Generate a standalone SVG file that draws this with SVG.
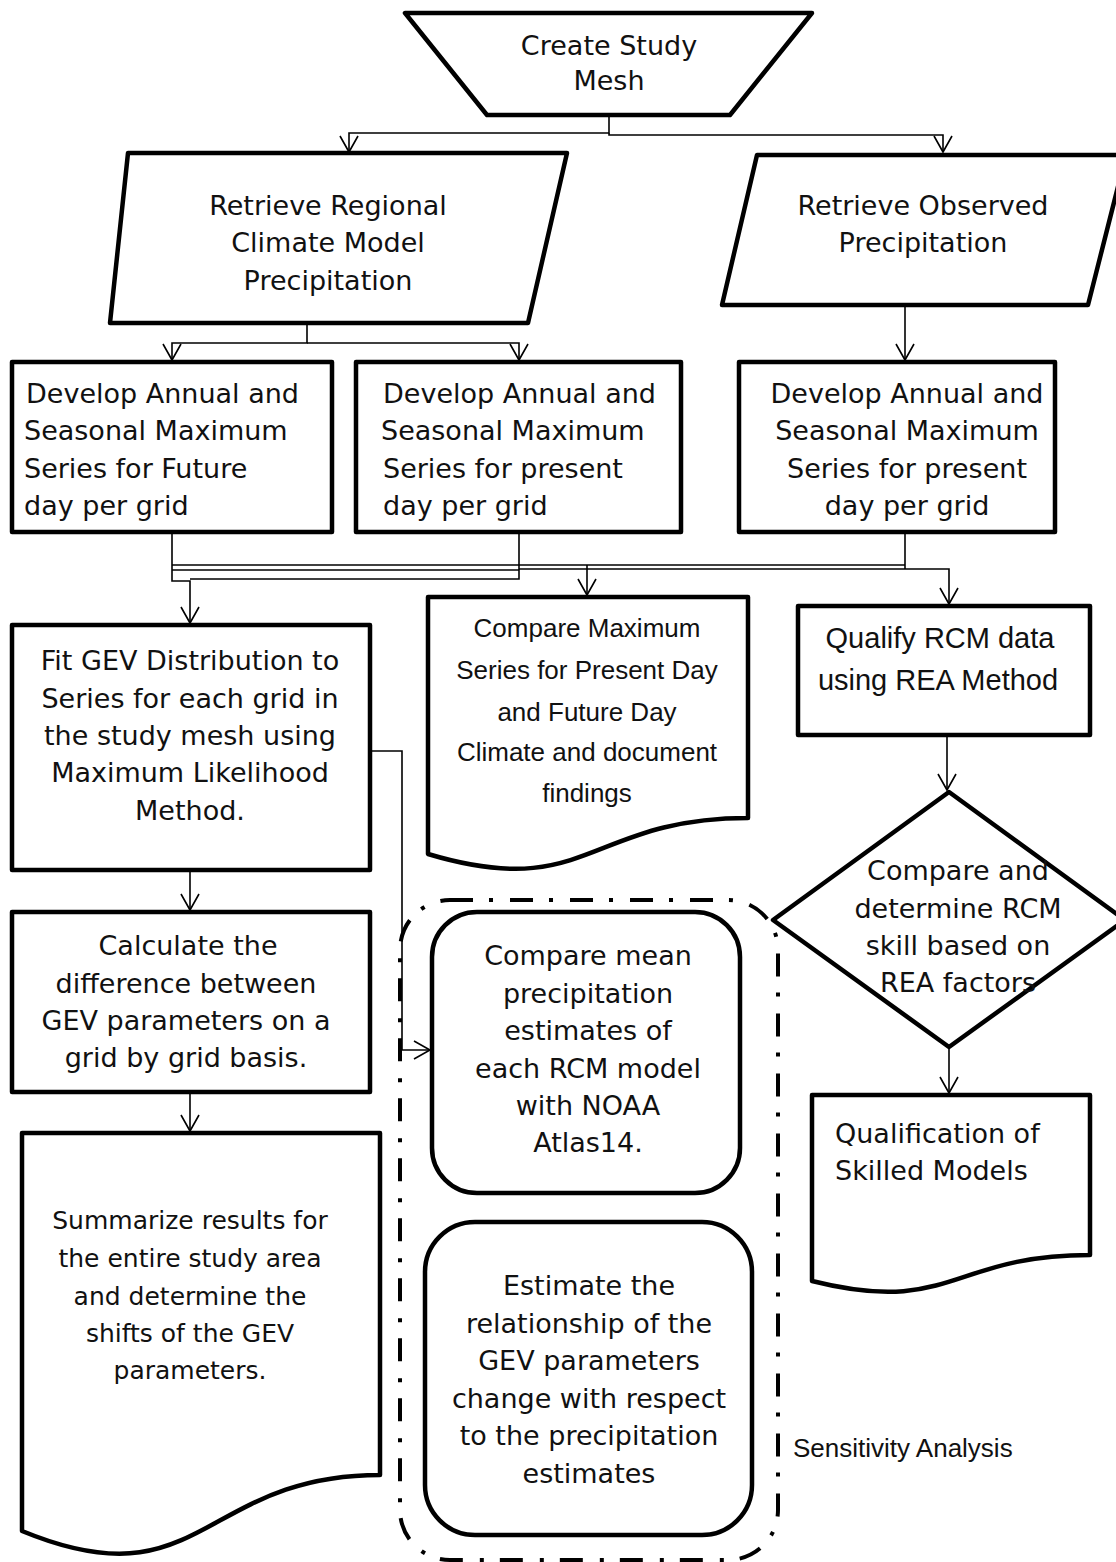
<svg xmlns="http://www.w3.org/2000/svg" width="1116" height="1562" viewBox="0 0 1116 1562">
<style>
.s{fill:#fff;stroke:#000;stroke-width:4.5;stroke-linejoin:round}
.c{fill:none;stroke:#000;stroke-width:1.6}
.t{font-family:"DejaVu Sans",Verdana,sans-serif;font-size:27px;fill:#111;dominant-baseline:central}
.m{text-anchor:middle}
.k{font-family:"Liberation Sans",Arial,sans-serif;font-size:26px;fill:#111;dominant-baseline:central}
</style>
<defs>
<marker id="a" markerUnits="userSpaceOnUse" markerWidth="40" markerHeight="40" refX="0" refY="0" viewBox="-20 -20 40 40" orient="auto" overflow="visible">
<path d="M-16,-9 L0,0 L-16,9" fill="none" stroke="#000" stroke-width="1.6"/>
</marker>
</defs>
<g id="connectors">
<path class="c" d="M609,115 V133 H349 V152" marker-end="url(#a)"/>
<path class="c" d="M609,133 V135 H943 V152" marker-end="url(#a)"/>
<path class="c" d="M307,323 V343 H172 V360" marker-end="url(#a)"/>
<path class="c" d="M307,343 H519 V360" marker-end="url(#a)"/>
<path class="c" d="M905,305 V360" marker-end="url(#a)"/>
<path class="c" d="M172,532 V581 H190 V623" marker-end="url(#a)"/>
<path class="c" d="M519,532 V579 H190"/>
<path class="c" d="M172,565 H905"/>
<path class="c" d="M172,570 H519" stroke="#777"/>
<path class="c" d="M519,569 H949 V604" marker-end="url(#a)"/>
<path class="c" d="M905,532 V569"/>
<path class="c" d="M587,565 V595" marker-end="url(#a)"/>
<path class="c" d="M947,735 V790" marker-end="url(#a)"/>
<path class="c" d="M949,1047 V1093" marker-end="url(#a)"/>
<path class="c" d="M190,870 V910" marker-end="url(#a)"/>
<path class="c" d="M190,1092 V1131" marker-end="url(#a)"/>
<path class="c" d="M370,751 H402 V1050 H430" marker-end="url(#a)"/>
</g>
<g id="create-mesh">
<path class="s" d="M405,13 H812 L730,115 H487 Z"/>
<text class="t m" x="609" y="45">Create Study</text>
<text class="t m" x="609" y="80">Mesh</text>
</g>
<g id="retrieve-rcm">
<path class="s" d="M128,153 H567 L528,323 H110 Z"/>
<text class="t m" x="328" y="205">Retrieve Regional</text>
<text class="t m" x="328" y="242">Climate Model</text>
<text class="t m" x="328" y="280">Precipitation</text>
</g>
<g id="retrieve-obs">
<path class="s" d="M757,155 H1126 L1088,305 H722 Z"/>
<text class="t m" x="923" y="205">Retrieve Observed</text>
<text class="t m" x="923" y="242">Precipitation</text>
</g>
<g id="develop-future">
<rect class="s" x="12" y="362" width="320" height="170"/>
<text class="t" x="26" y="393">Develop Annual and</text>
<text class="t" x="24" y="430">Seasonal Maximum</text>
<text class="t" x="24" y="468">Series for Future</text>
<text class="t" x="24" y="505">day per grid</text>
</g>
<g id="develop-present-rcm">
<rect class="s" x="356" y="362" width="325" height="170"/>
<text class="t" x="383" y="393">Develop Annual and</text>
<text class="t" x="381" y="430">Seasonal Maximum</text>
<text class="t" x="383" y="468">Series for present</text>
<text class="t" x="383" y="505">day per grid</text>
</g>
<g id="develop-present-obs">
<rect class="s" x="739" y="362" width="316" height="170"/>
<text class="t m" x="907" y="393">Develop Annual and</text>
<text class="t m" x="907" y="430">Seasonal Maximum</text>
<text class="t m" x="907" y="468">Series for present</text>
<text class="t m" x="907" y="505">day per grid</text>
</g>
<g id="fit-gev">
<rect class="s" x="12" y="625" width="358" height="245"/>
<text class="t m" x="190" y="660">Fit GEV Distribution to</text>
<text class="t m" x="190" y="698">Series for each grid in</text>
<text class="t m" x="190" y="735">the study mesh using</text>
<text class="t m" x="190" y="772">Maximum Likelihood</text>
<text class="t m" x="190" y="810">Method.</text>
</g>
<g id="compare-max">
<path class="s" d="M428,597 H748 V818 C588,818 588,902 428,854 Z"/>
<text class="k m" x="587" y="628">Compare Maximum</text>
<text class="k m" x="587" y="670">Series for Present Day</text>
<text class="k m" x="587" y="712">and Future Day</text>
<text class="k m" x="587" y="752">Climate and document</text>
<text class="k m" x="587" y="793">findings</text>
</g>
<g id="qualify-rcm">
<rect class="s" x="798" y="606" width="292" height="129"/>
<text class="k m" x="940" y="638" style="font-size:29px">Qualify RCM data</text>
<text class="k m" x="938" y="680" style="font-size:29px">using REA Method</text>
</g>
<g id="compare-skill">
<path class="s" d="M949,792 L1125,920 L949,1047 L773,920 Z"/>
<text class="t m" x="958" y="870">Compare and</text>
<text class="t m" x="958" y="908">determine RCM</text>
<text class="t m" x="958" y="945">skill based on</text>
<text class="t m" x="958" y="982">REA factors</text>
</g>
<g id="qualification">
<path class="s" d="M812,1095 H1090 V1255 C951,1255 951,1316 812,1281 Z"/>
<text class="t" x="835" y="1133">Qualification of</text>
<text class="t" x="835" y="1170">Skilled Models</text>
</g>
<g id="calculate-diff">
<rect class="s" x="12" y="912" width="358" height="180"/>
<text class="t m" x="188" y="945">Calculate the</text>
<text class="t m" x="186" y="983">difference between</text>
<text class="t m" x="186" y="1020">GEV parameters on a</text>
<text class="t m" x="186" y="1057">grid by grid basis.</text>
</g>
<g id="summarize">
<path class="s" d="M22,1133 H380 V1475 C201,1475 201,1605 22,1531 Z"/>
<text class="t m" x="190" y="1220" style="font-size:25px">Summarize results for</text>
<text class="t m" x="190" y="1258" style="font-size:25px">the entire study area</text>
<text class="t m" x="190" y="1296" style="font-size:25px">and determine the</text>
<text class="t m" x="190" y="1333" style="font-size:25px">shifts of the GEV</text>
<text class="t m" x="190" y="1370" style="font-size:25px">parameters.</text>
</g>
<g id="sensitivity">
<rect x="400" y="900" width="378" height="660" rx="50" fill="none" stroke="#000" stroke-width="4" stroke-dasharray="23 16 4 17"/>
<text class="k" x="793" y="1448" style="font-size:26px">Sensitivity Analysis</text>
</g>
<g id="compare-mean">
<rect class="s" x="432" y="912" width="308" height="281" rx="45"/>
<text class="t m" x="588" y="955">Compare mean</text>
<text class="t m" x="588" y="993">precipitation</text>
<text class="t m" x="588" y="1030">estimates of</text>
<text class="t m" x="588" y="1068">each RCM model</text>
<text class="t m" x="588" y="1105">with NOAA</text>
<text class="t m" x="588" y="1142">Atlas14.</text>
</g>
<g id="estimate-rel">
<rect class="s" x="425" y="1222" width="327" height="313" rx="50"/>
<text class="t m" x="589" y="1285">Estimate the</text>
<text class="t m" x="589" y="1323">relationship of the</text>
<text class="t m" x="589" y="1360">GEV parameters</text>
<text class="t m" x="589" y="1398">change with respect</text>
<text class="t m" x="589" y="1435">to the precipitation</text>
<text class="t m" x="589" y="1473">estimates</text>
</g>
</svg>
